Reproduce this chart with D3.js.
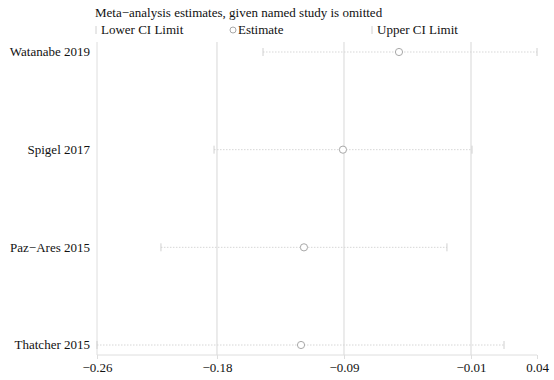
<!DOCTYPE html>
<html>
<head>
<meta charset="utf-8">
<script src="https://cdn.jsdelivr.net/npm/d3@7"></script>
</head>
<body style="margin:0">
<div id="wrapper"></div>
<script>
const studies = ["Watanabe 2019", "Spigel 2017", "Paz\u2212Ares 2015", "Thatcher 2015"];
const lowerCI = [-0.1468, -0.1802, -0.2164, -0.2600];
const estimate = [-0.0541, -0.0923, -0.1189, -0.1209];
const upperCI = [0.0400, -0.0043, -0.0214, 0.0175];
const tickValues = [-0.2600, -0.1782, -0.0916, -0.0050, 0.0400];
const tickLabels = ["\u22120.26", "\u22120.18", "\u22120.09", "\u22120.01", "0.04"];
const refLines = [-0.1782, -0.0916, -0.0050];

const dataset = studies.map((s, i) => ({
  study: s, lo: lowerCI[i], est: estimate[i], hi: upperCI[i]
}));

const serif = '"Liberation Serif"';

let dimensions = {
  width: 554,
  height: 380,
  margin: { top: 42, right: 17, bottom: 25, left: 97 },
};
dimensions.boundedWidth = dimensions.width - dimensions.margin.left - dimensions.margin.right;
dimensions.boundedHeight = dimensions.height - dimensions.margin.top - dimensions.margin.bottom;

const wrapper = d3.select("#wrapper")
  .append("svg")
  .attr("width", dimensions.width)
  .attr("height", dimensions.height);

const bounds = wrapper.append("g")
  .attr("transform", `translate(${dimensions.margin.left},${dimensions.margin.top})`);

const xScale = d3.scaleLinear()
  .domain([-0.26, 0.04])
  .range([0, dimensions.boundedWidth]);

const yScale = d3.scalePoint()
  .domain(studies)
  .range([10, 303]);

const gridColor = "#dedede";

// left border + reference lines
bounds.append("line")
  .attr("x1", 0).attr("x2", 0)
  .attr("y1", 0).attr("y2", dimensions.boundedHeight)
  .attr("stroke", gridColor);

bounds.selectAll(".ref")
  .data(refLines)
  .join("line")
  .attr("x1", d => xScale(d)).attr("x2", d => xScale(d))
  .attr("y1", 0).attr("y2", dimensions.boundedHeight)
  .attr("stroke", gridColor)
  .attr("stroke-width", 1.2);

// x axis
const xAxisGenerator = d3.axisBottom(xScale)
  .tickValues(tickValues)
  .tickFormat((d, i) => tickLabels[i])
  .tickSize(4)
  .tickPadding(4);

const xAxis = bounds.append("g")
  .attr("transform", `translate(0,${dimensions.boundedHeight})`)
  .call(xAxisGenerator);
xAxis.select(".domain").attr("stroke", gridColor).attr("d", `M0,0H${dimensions.boundedWidth}`);
xAxis.selectAll(".tick line").attr("stroke", gridColor);
xAxis.selectAll(".tick text")
  .style("font-family", serif)
  .style("font-size", "13px")
  .attr("fill", "#111");

// CI lines
const rows = bounds.selectAll(".row")
  .data(dataset)
  .join("g")
  .attr("transform", d => `translate(0,${yScale(d.study)})`);

rows.append("line")
  .attr("x1", d => xScale(d.lo)).attr("x2", d => xScale(d.hi))
  .attr("stroke", "#d6d6d6")
  .attr("stroke-width", 1)
  .attr("stroke-dasharray", "1.5,1.5");

rows.append("line")
  .attr("x1", d => xScale(d.lo)).attr("x2", d => xScale(d.lo))
  .attr("y1", -4).attr("y2", 4)
  .attr("stroke", "#d0d0d0");

rows.append("line")
  .attr("x1", d => xScale(d.hi)).attr("x2", d => xScale(d.hi))
  .attr("y1", -4).attr("y2", 4)
  .attr("stroke", "#d0d0d0");

rows.append("circle")
  .attr("cx", d => xScale(d.est))
  .attr("r", 3.6)
  .attr("fill", "#fff")
  .attr("stroke", "#a8a8a8")
  .attr("stroke-width", 1);

// study labels
rows.append("text")
  .attr("x", -7)
  .attr("dy", "0.32em")
  .attr("text-anchor", "end")
  .style("font-family", serif)
  .style("font-size", "13px")
  .attr("fill", "#111")
  .text(d => d.study);

// title + legend
wrapper.append("text")
  .attr("x", 95).attr("y", 17)
  .style("font-family", serif)
  .style("font-size", "13px")
  .attr("fill", "#111")
  .text("Meta\u2212analysis estimates, given named study is omitted");

const legend = wrapper.append("g").attr("transform", "translate(0,30)");
const legendText = (x, label) => legend.append("text")
  .attr("x", x).attr("dy", "0.32em")
  .style("font-family", serif).style("font-size", "13px")
  .attr("fill", "#111").text(label);
legend.append("line").attr("x1", 96).attr("x2", 96).attr("y1", -4).attr("y2", 4).attr("stroke", "#d0d0d0");
legendText(101, "Lower CI Limit");
legend.append("circle").attr("cx", 233).attr("r", 3).attr("fill", "#fff").attr("stroke", "#a8a8a8");
legendText(238, "Estimate");
legend.append("line").attr("x1", 372).attr("x2", 372).attr("y1", -4).attr("y2", 4).attr("stroke", "#d0d0d0");
legendText(377, "Upper CI Limit");
</script>
</body>
</html>
